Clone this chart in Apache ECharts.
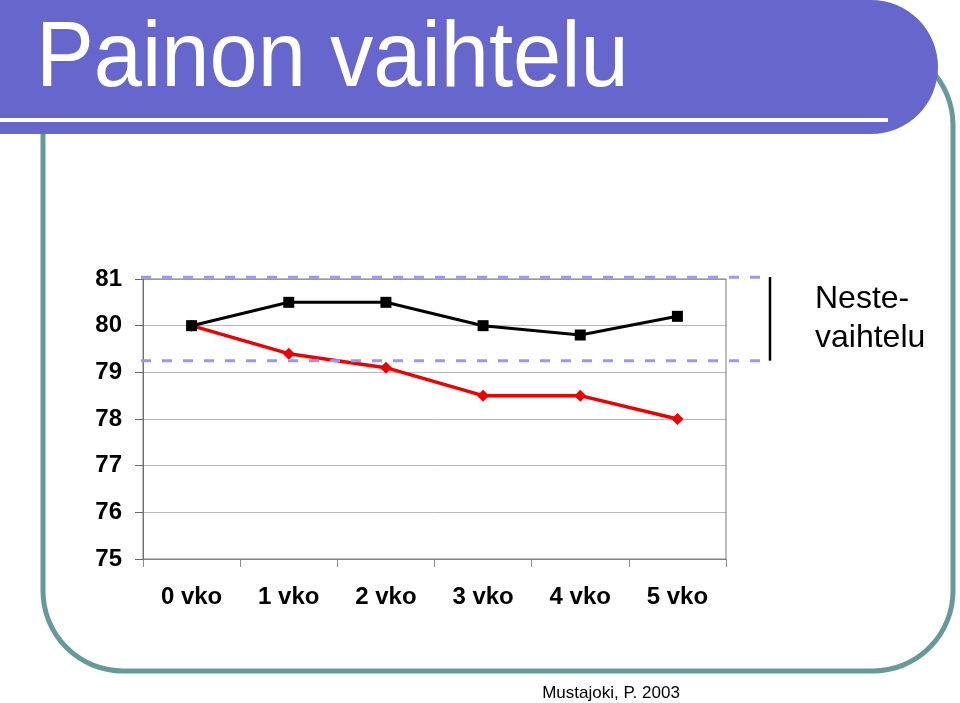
<!DOCTYPE html>
<html>
<head>
<meta charset="utf-8">
<script src="https://cdn.jsdelivr.net/npm/echarts@6/dist/echarts.min.js"></script>
<style>
html,body{margin:0;padding:0;background:#fff;}
#chart{width:960px;height:703px;}
</style>
</head>
<body>
<div id="chart"></div>
<script>
// ---- data ----
const categories = ['0 vko', '1 vko', '2 vko', '3 vko', '4 vko', '5 vko'];
const paino = [80, 80.5, 80.5, 80, 79.8, 80.2];          // black squares
const rasvapaino = [80, 79.4, 79.1, 78.5, 78.5, 78.0];   // red diamonds
const yMin = 75, yMax = 81, yStep = 1;
const nesteRange = [79.25, 81.04];                       // dashed band
const titleText = 'Painon vaihtelu';
const noteLines = ['Neste-', 'vaihtelu'];
const sourceText = 'Mustajoki, P. 2003';

const chart = echarts.init(document.getElementById('chart'), null, {renderer: 'canvas'});
const F = 'Liberation Sans, Arial, Helvetica, sans-serif';

const option = {
  animation: false,
  backgroundColor: '#ffffff',
  grid: {left: 143, right: 234, top: 279, bottom: 144, show: true, borderColor: '#7a7a7a', borderWidth: 1, z: 1},
  xAxis: {
    type: 'category',
    data: categories,
    boundaryGap: true,
    axisLine: {show: true, lineStyle: {color: '#8a8a8a', width: 1}},
    axisTick: {show: true, length: 8, inside: false, alignWithLabel: false, lineStyle: {color: '#8a8a8a'}},
    axisLabel: {margin: 26, color: '#000', fontFamily: F, fontSize: 24, fontWeight: 'bold'},
    splitLine: {show: false}
  },
  yAxis: {
    type: 'value',
    min: yMin, max: yMax, interval: yStep,
    axisLine: {show: true, lineStyle: {color: '#666', width: 1}},
    axisTick: {show: true, length: 8, lineStyle: {color: '#666'}},
    axisLabel: {margin: 21, color: '#000', fontFamily: F, fontSize: 24, fontWeight: 'bold'},
    splitLine: {show: true, lineStyle: {color: '#b8b8b8', width: 1}}
  },
  series: [
    {
      type: 'line', data: paino, z: 5,
      symbol: 'rect', symbolSize: 11,
      lineStyle: {color: '#000', width: 3},
      itemStyle: {color: '#000'}
    },
    {
      type: 'line', data: rasvapaino, z: 4,
      symbol: 'diamond', symbolSize: 12,
      lineStyle: {color: '#ee0000', width: 3.5},
      itemStyle: {color: '#ee0000'}
    }
  ]
};
chart.setOption(option);

// positions of the annotation band from the library's scale
const yTop = chart.convertToPixel({yAxisIndex: 0}, nesteRange[1]);
const yBot = chart.convertToPixel({yAxisIndex: 0}, nesteRange[0]);
const gridLeft = 143, gridRightX = 960 - 234;
const bandLeft = gridLeft - 2, bandRight = gridRightX + 44;
const dashStyle = {stroke: '#9999ee', lineWidth: 3, lineDash: [10, 11]};

chart.setOption({
  graphic: [
    // teal rounded frame
    {type: 'rect', z: -10, shape: {x: 43, y: 45, width: 910, height: 626, r: 80},
      style: {fill: 'none', stroke: '#669999', lineWidth: 5}},
    // title banner
    {type: 'rect', z: 10, shape: {x: -70, y: 0, width: 1008, height: 134, r: [0, 67, 67, 0]},
      style: {fill: '#6666cc'}},
    {type: 'rect', z: 11, shape: {x: 0, y: 118, width: 888, height: 4}, style: {fill: '#ffffff'}},
    {type: 'text', z: 12, x: 36, y: 60, scaleX: 0.985, scaleY: 1.06,
      style: {text: titleText, fill: '#ffffff', font: '88px ' + F, verticalAlign: 'middle', align: 'left'}},
    // dashed band
    {type: 'line', z: 6, shape: {x1: bandLeft, y1: yTop, x2: bandRight, y2: yTop}, style: dashStyle},
    {type: 'line', z: 6, shape: {x1: bandLeft, y1: yBot, x2: bandRight, y2: yBot}, style: dashStyle},
    {type: 'line', z: 7, shape: {x1: bandRight, y1: yTop, x2: bandRight, y2: yBot},
      style: {stroke: '#000', lineWidth: 2.5}},
    // note text
    {type: 'text', z: 12, x: 815, y: 299,
      style: {text: noteLines[0], fill: '#000', font: '32px ' + F, verticalAlign: 'middle', align: 'left'}},
    {type: 'text', z: 12, x: 815, y: 338,
      style: {text: noteLines[1], fill: '#000', font: '32px ' + F, verticalAlign: 'middle', align: 'left'}},
    // source
    {type: 'text', z: 12, x: 611, y: 693,
      style: {text: sourceText, fill: '#000', font: '17px ' + F, verticalAlign: 'middle', align: 'center'}}
  ]
});
</script>
</body>
</html>
